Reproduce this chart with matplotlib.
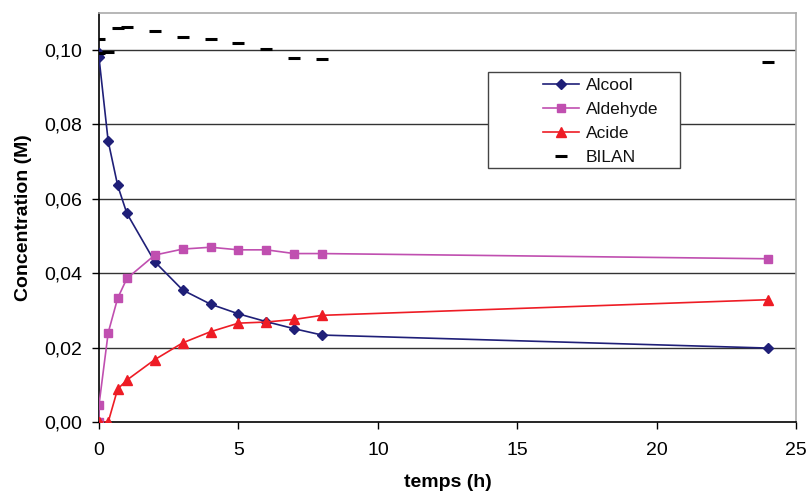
import matplotlib
matplotlib.use("Agg")
import matplotlib.pyplot as plt
from matplotlib.patches import Rectangle
from matplotlib.ticker import FuncFormatter, MultipleLocator

plt.rcParams["font.family"] = ["Liberation Sans", "DejaVu Sans"]

# temps (h) -- two rows at t = 0
temps = [0, 0, 0.33, 0.67, 1, 2, 3, 4, 5, 6, 7, 8, 24]
alcool = [0.0991, 0.0980, 0.0755, 0.0636, 0.0561, 0.0431, 0.0355,
          0.0317, 0.0291, 0.0270, 0.0251, 0.0234, 0.0199]
aldehyde = [0.0, 0.0046, 0.0240, 0.0333, 0.0386, 0.0449, 0.0465,
            0.0470, 0.0463, 0.0463, 0.0453, 0.0453, 0.0439]
acide = [0.0, 0.0, 0.0, 0.0089, 0.0113, 0.0168, 0.0213,
         0.0243, 0.0266, 0.0269, 0.0276, 0.0287, 0.0329]
bilan = [0.0991, 0.1029, 0.0995, 0.1058, 0.1063, 0.1052, 0.1035,
         0.1029, 0.1018, 0.1002, 0.0978, 0.0975, 0.0968]

fig = plt.figure(figsize=(8.08, 4.92), dpi=100)
ax = fig.add_axes([0.1225, 0.142, 0.863, 0.832])

for y in [0.02, 0.04, 0.06, 0.08, 0.10]:
    ax.axhline(y, color="#333333", linewidth=1.0, zorder=1)

ax.plot(temps, alcool, color="#1f1f78", marker="D", markersize=5.5,
        linewidth=1.2, label="Alcool", zorder=3)
ax.plot(temps, aldehyde, color="#c04fb0", marker="s", markersize=5.5,
        linewidth=1.2, label="Aldehyde", zorder=3)
ax.plot(temps, acide, color="#ee1c25", marker="^", markersize=7,
        linewidth=1.2, label="Acide", zorder=3)
ax.plot(temps, bilan, color="black", marker="_", markersize=9,
        markeredgewidth=2.2, linestyle="none", label="BILAN", zorder=4)

ax.set_xlim(0, 25)
ax.set_ylim(0, 0.11)
ax.xaxis.set_major_locator(MultipleLocator(5))
ax.set_yticks([0, 0.02, 0.04, 0.06, 0.08, 0.10])
ax.yaxis.set_major_formatter(FuncFormatter(lambda v, p: f"{v:.2f}".replace(".", ",")))
ax.tick_params(axis="both", labelsize=14, direction="out", length=5,
               width=1, color="black")
ax.tick_params(axis="x", pad=9)
ax.tick_params(axis="y", pad=7)

ax.spines["left"].set_color("black")
ax.spines["bottom"].set_color("black")
ax.spines["top"].set_color("#aaaaaa")
ax.spines["right"].set_color("#aaaaaa")
for s in ax.spines.values():
    s.set_linewidth(1.2)

ax.set_xlabel("temps (h)", fontsize=14, fontweight="bold", labelpad=11)
ax.set_ylabel("Concentration (M)", fontsize=14, fontweight="bold", labelpad=9)

# legend box drawn separately (wide left padding like the original)
box = Rectangle((0.604, 0.6585), 0.2376, 0.195, transform=fig.transFigure,
                facecolor="white", edgecolor="#444444", linewidth=1.0,
                zorder=5, clip_on=False)
ax.add_patch(box)
leg = ax.legend(loc="upper left", bbox_to_anchor=(0.672, 0.841),
                bbox_transform=fig.transFigure, fontsize=12.5, frameon=False,
                borderpad=0, handlelength=2.07, handletextpad=0.4,
                labelspacing=0.5, borderaxespad=0)
leg.set_zorder(6)
for t in leg.get_texts():
    t.set_color("#111111")

fig.savefig("out.png", dpi=100)
